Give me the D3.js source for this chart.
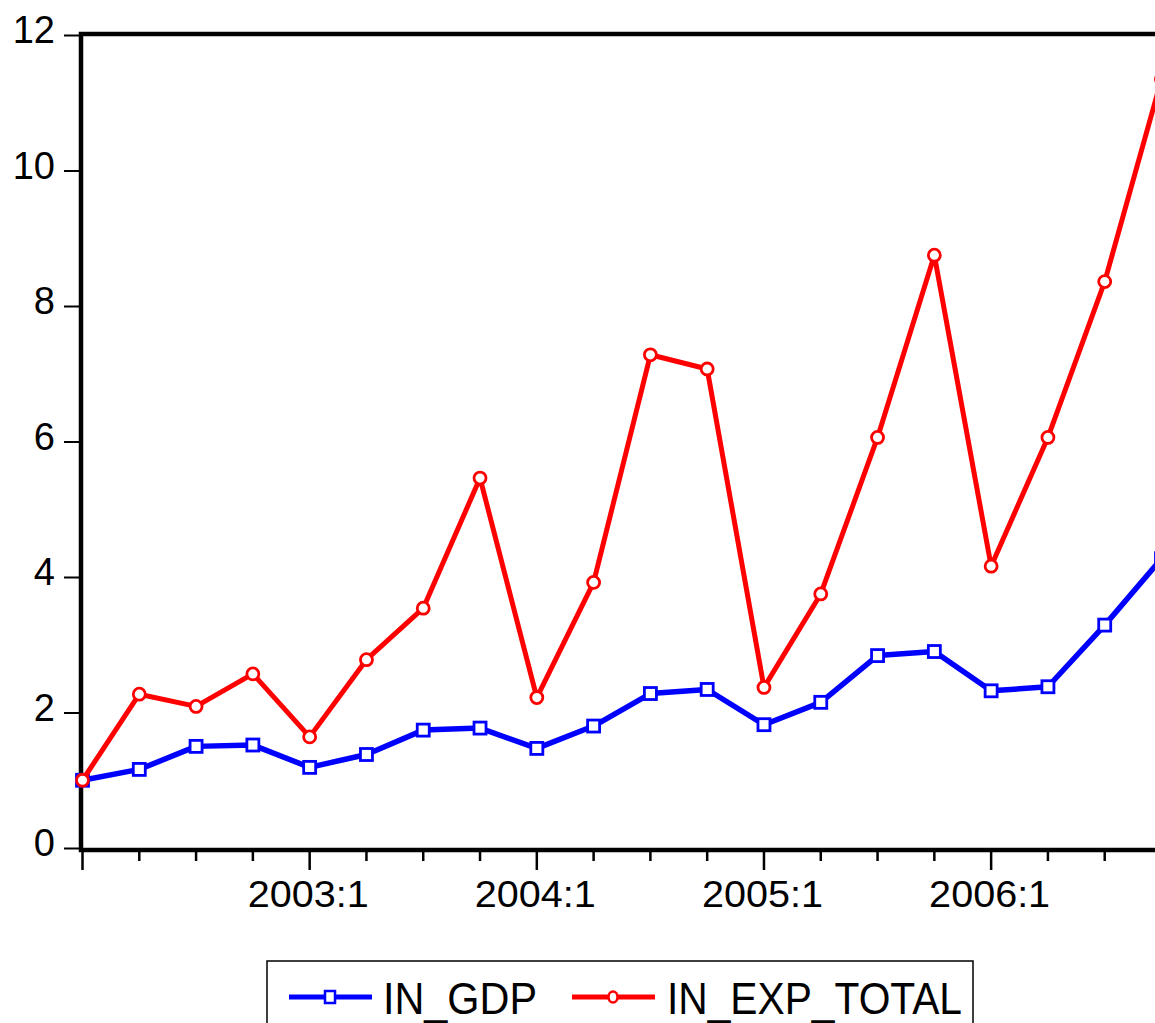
<!DOCTYPE html>
<html>
<head>
<meta charset="utf-8">
<script src="https://cdn.jsdelivr.net/npm/d3@7"></script>
<style>
  html, body { margin: 0; padding: 0; background: #fff; overflow: hidden; }
  svg { display: block; font-family: "Liberation Sans", Arial, sans-serif; }
</style>
</head>
<body>
<svg id="chart" width="1155" height="1023"></svg>
<script>
const quarters = ["2002:1","2002:2","2002:3","2002:4","2003:1","2003:2","2003:3","2003:4",
                  "2004:1","2004:2","2004:3","2004:4","2005:1","2005:2","2005:3","2005:4",
                  "2006:1","2006:2","2006:3","2006:4"];
const inGdp = [1.00, 1.16, 1.50, 1.52, 1.19, 1.38, 1.74, 1.77, 1.47, 1.80,
               2.28, 2.34, 1.82, 2.15, 2.84, 2.90, 2.32, 2.38, 3.29, 4.27];
const inExpTotal = [1.00, 2.27, 2.09, 2.57, 1.64, 2.78, 3.54, 5.46, 2.22, 3.92,
                    7.28, 7.07, 2.37, 3.75, 6.06, 8.75, 4.16, 6.06, 8.36, 11.35];
const yTicks = [0, 2, 4, 6, 8, 10, 12];
const xLabelQuarters = ["2003:1","2004:1","2005:1","2006:1"];
const seriesNames = ["IN_GDP", "IN_EXP_TOTAL"];

const svg = d3.select("#chart");
const x = d3.scalePoint().domain(quarters).range([82.5, 1161.5]);
const y = d3.scaleLinear().domain([0, 12]).range([848, 35]);

const leftX = 81, topY = 34, bottomY = 850, rightX = 1164;

// Y axis ticks and labels
const yAxis = d3.axisLeft(y).tickValues(yTicks).tickSize(16).tickPadding(9).tickFormat(d3.format("d"));
const gy = svg.append("g").attr("transform", `translate(${leftX - 1},0)`).call(yAxis);
gy.select(".domain").remove();
gy.selectAll(".tick line").attr("stroke", "#000").attr("stroke-width", 2);
gy.selectAll(".tick text").attr("font-size", 38).attr("fill", "#000")
  .attr("font-family", "Liberation Sans, Arial, sans-serif")
  .attr("dy", "0.2em");

// X axis ticks
const gx = svg.append("g").attr("transform", `translate(0,${bottomY + 2})`);
gx.selectAll("line.xt").data(quarters).enter().append("line")
  .attr("x1", d => x(d)).attr("x2", d => x(d))
  .attr("y1", 0).attr("y2", d => d.endsWith(":1") ? 18 : 9)
  .attr("stroke", "#000").attr("stroke-width", 2.5);
gx.selectAll("text.xl").data(xLabelQuarters).enter().append("text")
  .attr("x", d => x(d) - 1.5).attr("y", 55)
  .attr("text-anchor", "middle").attr("font-size", 37).attr("fill", "#000")
  .attr("textLength", 121).attr("lengthAdjust", "spacingAndGlyphs")
  .text(d => d);

// Frame
svg.append("rect").attr("x", leftX).attr("y", topY)
  .attr("width", rightX - leftX).attr("height", bottomY - topY)
  .attr("fill", "none").attr("stroke", "#000").attr("stroke-width", 4.5);

// Lines
const line = d3.line().x((d, i) => x(quarters[i])).y(d => y(d));
svg.append("path").datum(inGdp).attr("d", line)
  .attr("fill", "none").attr("stroke", "#0000ff").attr("stroke-width", 5.5).attr("stroke-linejoin", "round");
svg.selectAll("rect.gm").data(inGdp).enter().append("rect")
  .attr("x", (d, i) => x(quarters[i]) - 6).attr("y", d => y(d) - 6)
  .attr("width", 12).attr("height", 12)
  .attr("fill", "#fff").attr("stroke", "#0000ff").attr("stroke-width", 2.8);

svg.append("path").datum(inExpTotal).attr("d", line)
  .attr("fill", "none").attr("stroke", "#ff0000").attr("stroke-width", 5).attr("stroke-linejoin", "round");
svg.selectAll("circle.em").data(inExpTotal).enter().append("circle")
  .attr("cx", (d, i) => x(quarters[i])).attr("cy", d => y(d)).attr("r", 6)
  .attr("fill", "#fff").attr("stroke", "#ff0000").attr("stroke-width", 2.8);

// Legend
const lg = svg.append("g");
lg.append("rect").attr("x", 267).attr("y", 961).attr("width", 706).attr("height", 120)
  .attr("fill", "#fff").attr("stroke", "#000").attr("stroke-width", 1.5);
lg.append("line").attr("x1", 289).attr("x2", 372).attr("y1", 997).attr("y2", 997)
  .attr("stroke", "#0000ff").attr("stroke-width", 5);
lg.append("rect").attr("x", 325).attr("y", 991).attr("width", 10).attr("height", 12)
  .attr("fill", "#fff").attr("stroke", "#0000ff").attr("stroke-width", 2.5);
lg.append("text").attr("x", 383).attr("y", 1014).attr("font-size", 44)
  .attr("textLength", 154).attr("lengthAdjust", "spacingAndGlyphs").text(seriesNames[0]);
lg.append("line").attr("x1", 572).attr("x2", 655).attr("y1", 997).attr("y2", 997)
  .attr("stroke", "#ff0000").attr("stroke-width", 5);
lg.append("ellipse").attr("cx", 613).attr("cy", 997).attr("rx", 4.5).attr("ry", 5.5)
  .attr("fill", "#fff").attr("stroke", "#ff0000").attr("stroke-width", 2.5);
lg.append("text").attr("x", 667).attr("y", 1014).attr("font-size", 44)
  .attr("textLength", 295).attr("lengthAdjust", "spacingAndGlyphs").text(seriesNames[1]);
</script>
</body>
</html>
